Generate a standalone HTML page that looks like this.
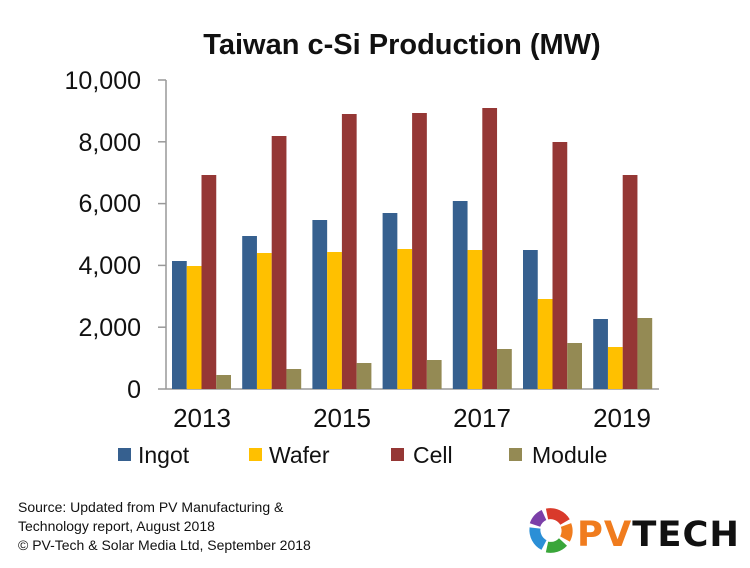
<!DOCTYPE html>
<html><head><style>
body{margin:0;width:750px;height:563px;background:#fff;overflow:hidden;font-family:"Liberation Sans",Arial,sans-serif}
</style></head><body>
<svg width="750" height="563" xmlns="http://www.w3.org/2000/svg" font-family="Liberation Sans, Arial, sans-serif">
<text x="402" y="54" font-size="29" font-weight="bold" text-anchor="middle" fill="#111">Taiwan c-Si Production (MW)</text>
<g stroke="#999" stroke-width="1.5">
<line x1="166" y1="80" x2="166" y2="389"/>
<line x1="166" y1="389" x2="659" y2="389"/>
<line x1="158" y1="80" x2="166" y2="80"/><line x1="158" y1="141.8" x2="166" y2="141.8"/>
<line x1="158" y1="203.6" x2="166" y2="203.6"/><line x1="158" y1="265.4" x2="166" y2="265.4"/>
<line x1="158" y1="327.2" x2="166" y2="327.2"/><line x1="158" y1="389" x2="166" y2="389"/>
</g>
<g font-size="25" text-anchor="end" fill="#111">
<text x="141" y="89">10,000</text><text x="141" y="151">8,000</text><text x="141" y="212">6,000</text>
<text x="141" y="274">4,000</text><text x="141" y="336">2,000</text><text x="141" y="398">0</text>
</g>
<g font-size="26" text-anchor="middle" fill="#111">
<text x="202" y="427">2013</text><text x="342" y="427">2015</text><text x="482" y="427">2017</text><text x="622" y="427">2019</text>
</g>
<g id="bars"></g>
<g font-size="23" fill="#111">
<rect x="118" y="448" width="13" height="13" fill="#36608f"/><text x="138" y="463">Ingot</text>
<rect x="249" y="448" width="13" height="13" fill="#ffc000"/><text x="269" y="463">Wafer</text>
<rect x="391" y="448" width="13" height="13" fill="#953735"/><text x="413" y="463">Cell</text>
<rect x="509" y="448" width="13" height="13" fill="#948a54"/><text x="532" y="463">Module</text>
</g>
<g font-size="14" fill="#111">
<text x="18" y="512">Source: Updated from PV Manufacturing &amp;</text>
<text x="18" y="531">Technology report, August 2018</text>
<text x="18" y="550">© PV-Tech &amp; Solar Media Ltd, September 2018</text>
</g>
<g transform="translate(551,530)" fill="none" stroke-width="11">
<path d="M-4,-16 A17,17 0 0 1 14,-8" stroke="#d93a2b"/>
<path d="M15,-5 A17,17 0 0 1 14,9" stroke="#f07c1e"/>
<path d="M12,12 A17,17 0 0 1 -4,17" stroke="#3aa63a"/>
<path d="M-7,15 A17,17 0 0 1 -16,-2" stroke="#2b8fd6"/>
<path d="M-16,-5 A17,17 0 0 1 -7,-15" stroke="#7b3fa8"/>
</g>
<text x="577" y="546" font-size="35" font-weight="900" fill="#111" letter-spacing="1" style="font-family:'DejaVu Sans',sans-serif" textLength="163" lengthAdjust="spacingAndGlyphs"><tspan fill="#f07c1e">PV</tspan>TECH</text>
</svg>
<script>
var tops=[[261,266,175,375],[236,253,136,369],[220,252,114,363],[213,249,113,360],[201,250,108,349],[250,299,142,343],[319,347,175,318]];
var cols=["#36608f","#ffc000","#953735","#948a54"];
var g=document.getElementById("bars"),s="";
for(var i=0;i<7;i++)for(var j=0;j<4;j++){var x=172+i*70.2+j*14.75;
s+='<rect x="'+x+'" y="'+tops[i][j]+'" width="14.75" height="'+(389-tops[i][j])+'" fill="'+cols[j]+'"/>';}
g.innerHTML=s;
</script>
</body></html>
